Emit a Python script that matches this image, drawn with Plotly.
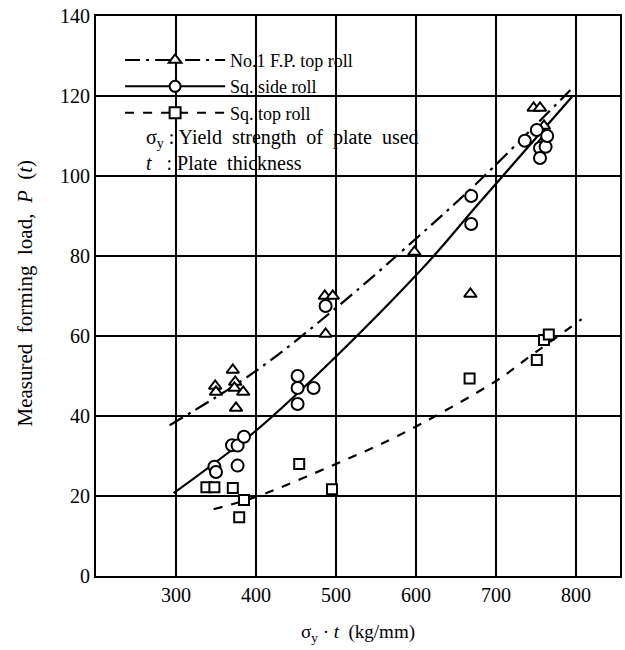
import plotly.graph_objects as go

# ---- data ----
fp_x = [349, 350, 371, 374, 373, 384, 375, 487, 486, 496, 598, 668, 747, 755, 760, 756]
fp_y = [47.5, 46, 51.5, 48.5, 47, 46, 42, 60.5, 70, 70, 81, 70.5, 117, 117, 112.5, 108]

side_x = [348, 350, 370, 377, 377, 385, 452, 452, 452, 472, 487, 669, 669, 736, 751, 755, 755, 762, 764]
side_y = [27.3, 26, 32.7, 32.6, 27.6, 34.8, 50, 47, 43, 47, 67.5, 95, 88, 108.8, 111.5, 107, 104.5, 107.3, 110]

top_x = [338, 348, 371, 385, 379, 454, 495, 667, 751, 760, 766]
top_y = [22.2, 22.2, 22, 19, 14.7, 28, 21.7, 49.4, 54, 59, 60.4]

# fitted curves
fp_fit_x = [292, 396, 497, 602, 676, 793]
fp_fit_y = [37.7, 50.7, 66.5, 84.7, 98.2, 121.5]

side_fit_x = [297, 398, 479, 614, 677, 795]
side_fit_y = [20.7, 36.0, 50.8, 78.2, 92.8, 119.8]

top_fit_x = [347, 400, 502, 577, 702, 739, 807]
top_fit_y = [16.7, 19.8, 28.2, 35.0, 49.0, 54.4, 64.2]

x_ticks = [300, 400, 500, 600, 700, 800]
y_ticks = [0, 20, 40, 60, 80, 100, 120, 140]

names = ["No.1 F.P. top roll", "Sq. side roll", "Sq. top roll"]

FONT = "Liberation Serif, Times New Roman, serif"

fig = go.Figure()

# curves (no legend)
fig.add_trace(go.Scatter(x=fp_fit_x, y=fp_fit_y, mode="lines", line_shape="spline",
                         line=dict(color="black", width=2.2, dash="longdashdot"), showlegend=False))
fig.add_trace(go.Scatter(x=side_fit_x, y=side_fit_y, mode="lines", line_shape="spline",
                         line=dict(color="black", width=2.2, dash="solid"), showlegend=False))
fig.add_trace(go.Scatter(x=top_fit_x, y=top_fit_y, mode="lines", line_shape="spline",
                         line=dict(color="black", width=2.2, dash="dash"), showlegend=False))

# markers (open, white interior)
fig.add_trace(go.Scatter(x=fp_x, y=fp_y, mode="markers", showlegend=False,
                         marker=dict(symbol="triangle-up", size=11, color="white",
                                     line=dict(width=2, color="black"))))
fig.add_trace(go.Scatter(x=side_x, y=side_y, mode="markers", showlegend=False,
                         marker=dict(symbol="circle", size=12, color="white",
                                     line=dict(width=2, color="black"))))
fig.add_trace(go.Scatter(x=top_x, y=top_y, mode="markers", showlegend=False,
                         marker=dict(symbol="square", size=10, color="white",
                                     line=dict(width=2, color="black"))))

# legend entries
for nm, sym, dash in zip(names, ["triangle-up", "circle", "square"],
                         ["longdashdot", "solid", "dash"]):
    fig.add_trace(go.Scatter(x=[None], y=[None], mode="lines+markers", name=nm,
                             line=dict(color="black", width=2, dash=dash),
                             marker=dict(symbol=sym, size=11, color="white",
                                         line=dict(width=2, color="black"))))

fig.update_layout(
    width=625, height=650,
    margin=dict(l=96, r=3, t=16, b=74),
    paper_bgcolor="white", plot_bgcolor="white",
    font=dict(family=FONT, color="black", size=19),
    showlegend=True,
    legend=dict(x=0.046, y=0.954, xanchor="left", yanchor="top",
                bgcolor="rgba(0,0,0,0)", borderwidth=0,
                font=dict(family=FONT, size=18, color="black"),
                itemwidth=100, tracegroupgap=0),
    xaxis=dict(range=[200, 855], tickvals=x_ticks, ticks="", showgrid=True,
               gridcolor="black", gridwidth=1.5, zeroline=False,
               showline=True, linecolor="black", linewidth=2, mirror=True,
               tickfont=dict(family=FONT, size=20),
               title=dict(text="σ<sub>y</sub> · <i>t</i>  (kg/mm)", font=dict(family=FONT, size=19), standoff=20)),
    yaxis=dict(range=[0, 140], tickvals=y_ticks, ticks="", showgrid=True,
               gridcolor="black", gridwidth=1.5, zeroline=False,
               showline=True, linecolor="black", linewidth=2, mirror=True,
               tickfont=dict(family=FONT, size=20)),
)

# y-axis title as an annotation for exact placement
fig.add_annotation(xref="paper", yref="paper", x=-0.135, y=0.505, xanchor="center", yanchor="middle",
                   textangle=-90, showarrow=False,
                   text="Measured  forming  load,  <i>P</i>  (<i>t</i>)",
                   font=dict(family=FONT, size=21, color="black"))

# white mask behind the legend block (gridlines are interrupted there)
fig.add_shape(type="rect", xref="paper", yref="paper", x0=0.03, x1=0.72, y0=0.722, y1=0.955,
              fillcolor="white", line=dict(width=0), layer="between")

fig.add_annotation(xref="paper", yref="paper", x=0.092, y=0.781, xanchor="left", yanchor="middle",
                   text="σ<sub>y</sub> : Yield  strength  of  plate  used", showarrow=False,
                   font=dict(family=FONT, size=20, color="black"))
fig.add_annotation(xref="paper", yref="paper", x=0.092, y=0.737, xanchor="left", yanchor="middle",
                   text="<i>t</i>   : Plate  thickness", showarrow=False,
                   font=dict(family=FONT, size=20, color="black"))

fig.write_html("out.html")
